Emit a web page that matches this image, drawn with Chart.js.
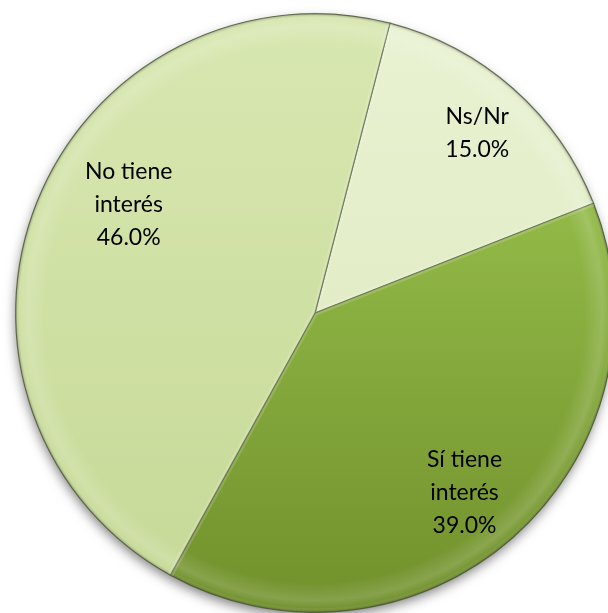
<!DOCTYPE html>
<html>
<head>
<meta charset="utf-8">
<script src="https://cdn.jsdelivr.net/npm/chart.js@4/dist/chart.umd.min.js"></script>
<style>
html,body{margin:0;padding:0;background:#fff;overflow:hidden;width:608px;height:613px;}
#wrap{position:absolute;left:0;top:0;width:630px;height:613px;}
</style>
</head>
<body>
<div id="wrap"><canvas id="c" width="630" height="613"></canvas></div>
<script>
const categories = ["Ns/Nr", "Sí tiene interés", "No tiene interés"];
const labelLines = [["Ns/Nr"], ["Sí tiene", "interés"], ["No tiene", "interés"]];
const values = [15.0, 39.0, 46.0];
const topColors = ["#e9f2d2", "#a2cd55", "#d8e7b1"];
const bottomColors = ["#dbe8bc", "#71902c", "#c6d996"];
const labelAngleShift = [0.5, 1.5, 8.5];
const labelRadius = [0.81, 0.78, 0.72];

function sliceFill(ctx) {
  const chart = ctx.chart;
  const i = ctx.dataIndex;
  const area = chart.chartArea;
  if (!area) return topColors[i];
  const g = chart.ctx.createLinearGradient(0, area.top, 0, area.bottom);
  g.addColorStop(0, topColors[i]);
  g.addColorStop(1, bottomColors[i]);
  return g;
}

const shadowPlugin = {
  id: 'shadow',
  beforeDatasetsDraw(chart) {
    const arc = chart.getDatasetMeta(0).data[0];
    if (!arc) return;
    const c = chart.ctx;
    c.save();
    c.shadowColor = 'rgba(0,0,0,0.5)';
    c.shadowBlur = 12;
    c.shadowOffsetX = -1;
    c.shadowOffsetY = 5;
    c.beginPath();
    c.arc(arc.x, arc.y, arc.outerRadius - 1, 0, Math.PI * 2);
    c.fillStyle = '#c8d89a';
    c.fill();
    c.restore();
  }
};

const bevelPlugin = {
  id: 'bevel',
  afterDatasetsDraw(chart) {
    const meta = chart.getDatasetMeta(0);
    const c = chart.ctx;
    meta.data.forEach((arc) => {
      c.save();
      c.beginPath();
      c.moveTo(arc.x, arc.y);
      c.arc(arc.x, arc.y, arc.outerRadius, arc.startAngle, arc.endAngle);
      c.closePath();
      c.clip();
      const g = c.createRadialGradient(arc.x, arc.y, arc.outerRadius * 0.9, arc.x, arc.y, arc.outerRadius);
      g.addColorStop(0, 'rgba(255,255,255,0)');
      g.addColorStop(0.6, 'rgba(255,255,255,0.15)');
      g.addColorStop(0.85, 'rgba(255,255,255,0.03)');
      g.addColorStop(1, 'rgba(40,50,20,0.35)');
      c.fillStyle = g;
      c.fillRect(arc.x - arc.outerRadius, arc.y - arc.outerRadius, arc.outerRadius * 2, arc.outerRadius * 2);
      c.lineWidth = 6;
      c.strokeStyle = 'rgba(255,255,255,0.15)';
      c.beginPath();
      c.moveTo(arc.x, arc.y);
      c.lineTo(arc.x + Math.cos(arc.startAngle) * arc.outerRadius, arc.y + Math.sin(arc.startAngle) * arc.outerRadius);
      c.moveTo(arc.x, arc.y);
      c.lineTo(arc.x + Math.cos(arc.endAngle) * arc.outerRadius, arc.y + Math.sin(arc.endAngle) * arc.outerRadius);
      c.stroke();
      c.restore();
    });
  }
};

const labelPlugin = {
  id: 'sliceLabels',
  afterDatasetsDraw(chart) {
    const c = chart.ctx;
    const meta = chart.getDatasetMeta(0);
    c.save();
    c.font = '23px Lato, "Open Sans", sans-serif';
    c.fillStyle = '#000';
    c.textAlign = 'center';
    c.textBaseline = 'middle';
    meta.data.forEach((arc, i) => {
      const mid = (arc.startAngle + arc.endAngle) / 2 + labelAngleShift[i] * Math.PI / 180;
      const r = arc.outerRadius * labelRadius[i];
      const x = arc.x + Math.cos(mid) * r;
      const y = arc.y + Math.sin(mid) * r;
      const lines = labelLines[i].concat([values[i].toFixed(1) + '%']);
      const lh = 33;
      const y0 = y - (lines.length - 1) * lh / 2;
      lines.forEach((t, k) => c.fillText(t, x, y0 + k * lh));
    });
    c.restore();
  }
};

new Chart(document.getElementById('c'), {
  type: 'pie',
  data: {
    labels: categories,
    datasets: [{
      data: values,
      backgroundColor: sliceFill,
      borderColor: 'rgba(80,90,60,0.8)',
      borderWidth: 1.2,
      borderJoinStyle: 'round'
    }]
  },
  options: {
    responsive: false,
    animation: false,
    rotation: 14.5,
    layout: { padding: { left: 15, top: 13, right: 15, bottom: 0 } },
    plugins: {
      legend: { display: false },
      tooltip: { enabled: false }
    }
  },
  plugins: [shadowPlugin, bevelPlugin, labelPlugin]
});
</script>
</body>
</html>
